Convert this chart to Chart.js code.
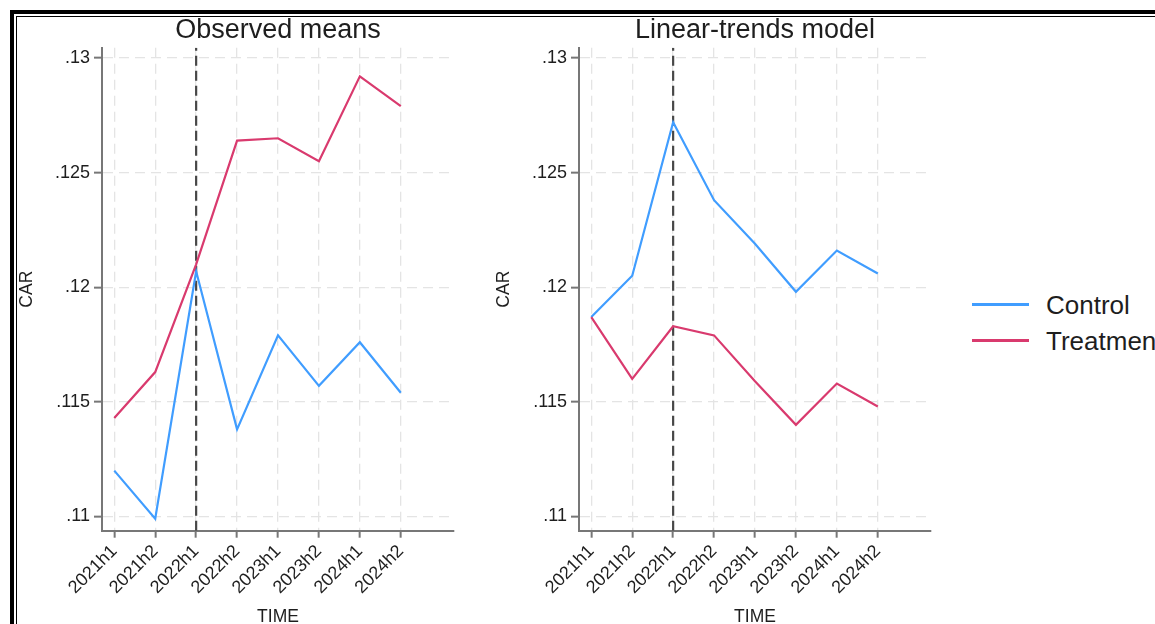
<!DOCTYPE html>
<html>
<head>
<meta charset="utf-8">
<title>CAR: observed means and linear-trends model</title>
<script src="https://cdn.jsdelivr.net/npm/chart.js@4.4.1/dist/chart.umd.min.js"></script>
<style>
  html, body { margin: 0; padding: 0; background: #fff; }
  body { width: 1155px; height: 624px; overflow: hidden; position: relative;
         font-family: "Liberation Sans", Arial, sans-serif; }
  .frame-outer { position: absolute; left: 10px; top: 10px; width: 1400px; height: 800px;
                 border-left: 4px solid #000; border-top: 4px solid #000; }
  .frame-inner { position: absolute; left: 16px; top: 16px; width: 1400px; height: 800px;
                 border-left: 1px solid #000; border-top: 1px solid #000; }
  canvas { position: absolute; top: 17px; }
  #observed { left: 17px; }
  #trends { left: 494px; }
  .key { position: absolute; left: 972px; width: 57px; height: 3px; }
  .key-label { position: absolute; left: 1046px; font-size: 26px; line-height: 30px;
               color: #1e1e1e; white-space: nowrap; }
</style>
</head>
<body>
<div class="frame-outer"></div>
<div class="frame-inner"></div>
<canvas id="observed" width="470" height="640"></canvas>
<canvas id="trends" width="470" height="640"></canvas>

<div class="key" id="key-control" style="top:302.5px"></div>
<div class="key-label" style="top:290px">Control</div>
<div class="key" id="key-treatment" style="top:338.5px"></div>
<div class="key-label" style="top:326px">Treatment</div>

<script>
// Half-year periods on the x axis
const PERIODS = ['2021h1', '2021h2', '2022h1', '2022h2', '2023h1', '2023h2', '2024h1', '2024h2'];

// Y-axis ticks
const Y_TICK_VALUES = [0.11, 0.115, 0.12, 0.125, 0.13];
const Y_TICK_LABELS = ['.11', '.115', '.12', '.125', '.13'];

// Observed group means of CAR
const observedControl   = [0.1120, 0.1099, 0.1207, 0.1138, 0.1179, 0.1157, 0.1176, 0.1154];
const observedTreatment = [0.1143, 0.1163, 0.1210, 0.1264, 0.1265, 0.1255, 0.1292, 0.1279];

// Linear-trends model predictions
const trendControl   = [0.1187, 0.1205, 0.1272, 0.1238, 0.1219, 0.1198, 0.1216, 0.1206];
const trendTreatment = [0.1187, 0.1160, 0.1183, 0.1179, 0.1159, 0.1140, 0.1158, 0.1148];

// Treatment begins in 2022h1
const TREATMENT_START = PERIODS.indexOf('2022h1');

const Y_MIN = 0.10938, Y_MAX = 0.13045;
const X_MIN = -0.3, X_MAX = 8.3;

const FONT = '"Liberation Sans", Arial, sans-serif';
const BLUE = '#409dff';
const RED = '#d93a6e';
const GRID = '#e4e4e4';
const AXIS = '#777777';
const TEXT = '#1e1e1e';

document.getElementById('key-control').style.background = BLUE;
document.getElementById('key-treatment').style.background = RED;

function points(values) {
  return values.map((v, i) => ({ x: i, y: v }));
}

function gridOpts(tickLength) {
  return {
    color: GRID, lineWidth: 1.3, borderDash: [10, 6],
    tickLength: tickLength, tickColor: AXIS, tickWidth: 2, tickBorderDash: []
  };
}

function makeChart(id, title, control, treatment) {
  return new Chart(document.getElementById(id), {
    type: 'line',
    data: {
      datasets: [
        {
          label: 'treatment start',
          data: [{ x: TREATMENT_START, y: Y_MIN }, { x: TREATMENT_START, y: Y_MAX }],
          borderColor: '#474747', borderWidth: 2.2, borderDash: [10, 5],
          pointRadius: 0, order: 3
        },
        { label: 'Control', data: points(control), borderColor: BLUE, borderWidth: 2.2,
          pointRadius: 0, tension: 0, order: 2 },
        { label: 'Treatment', data: points(treatment), borderColor: RED, borderWidth: 2.2,
          pointRadius: 0, tension: 0, order: 1 }
      ]
    },
    options: {
      responsive: false,
      animation: false,
      events: [],
      layout: { padding: { left: 0, right: 33, top: 0, bottom: 0 } },
      plugins: {
        legend: { display: false },
        tooltip: { enabled: false },
        title: {
          display: true, text: title, fullSize: false, color: TEXT,
          font: { family: FONT, size: 27, weight: 'normal', lineHeight: 1 },
          padding: { top: 0.5, bottom: 3.2 }
        }
      },
      scales: {
        x: {
          type: 'linear', min: X_MIN, max: X_MAX,
          afterBuildTicks: s => { s.ticks = PERIODS.map((p, i) => ({ value: i })); },
          afterFit: s => { s.height = 126.3; },
          ticks: {
            autoSkip: false, maxRotation: 45, minRotation: 45, padding: 3,
            color: TEXT, font: { family: FONT, size: 18 },
            callback: v => PERIODS[v]
          },
          grid: gridOpts(7),
          border: { display: true, color: AXIS, width: 2, dash: [10, 6] },
          title: {
            display: true, text: 'TIME', color: TEXT,
            font: { family: FONT, size: 17.5, lineHeight: 1.2 },
            padding: { top: 0, bottom: 29.8 }
          }
        },
        y: {
          type: 'linear', min: Y_MIN, max: Y_MAX,
          afterBuildTicks: s => { s.ticks = Y_TICK_VALUES.map(v => ({ value: v })); },
          afterFit: s => { s.width = 85; },
          ticks: {
            padding: 4, color: TEXT, font: { family: FONT, size: 18 },
            callback: v => Y_TICK_LABELS[Y_TICK_VALUES.indexOf(v)]
          },
          grid: gridOpts(8),
          border: { display: true, color: AXIS, width: 2, dash: [10, 6] },
          title: {
            display: true, text: 'CAR', color: TEXT,
            font: { family: FONT, size: 17.5, lineHeight: 1.2 },
            padding: { top: 0, bottom: 0 }
          }
        }
      }
    }
  });
}

makeChart('observed', 'Observed means', observedControl, observedTreatment);
makeChart('trends', 'Linear-trends model', trendControl, trendTreatment);
</script>
</body>
</html>
